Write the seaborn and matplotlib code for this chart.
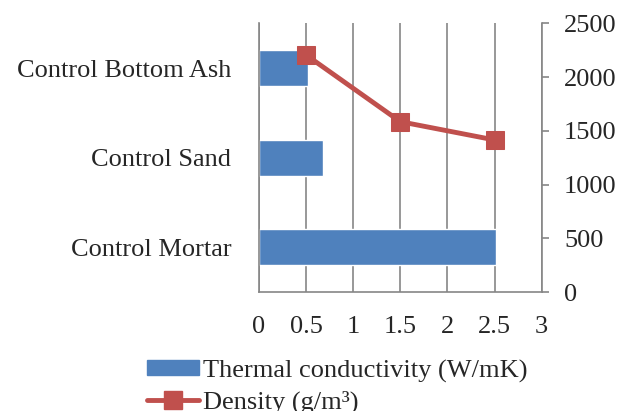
import pandas as pd
import matplotlib
matplotlib.use("Agg")
import matplotlib.pyplot as plt
import seaborn as sns
from matplotlib.lines import Line2D
from matplotlib.patches import Patch

# data
materials = ["Control Bottom Ash", "Control Sand", "Control Mortar"]
conductivity = [0.52, 0.68, 2.52]
density_x = [0.5, 1.5, 2.5]
density = [2205, 1585, 1415]
xticks = [0, 0.5, 1, 1.5, 2, 2.5, 3]
xticklabels = ["0", "0.5", "1", "1.5", "2", "2.5", "3"]
yticks2 = [0, 500, 1000, 1500, 2000, 2500]

sns.set_style("white")
plt.rcParams["font.family"] = ["Liberation Serif", "DejaVu Serif"]
plt.rcParams["font.size"] = 19

blue = "#4F81BD"
red = "#C0504D"
gray = "#868686"

df = pd.DataFrame({"material": materials, "k": conductivity})

fig = plt.figure(figsize=(6.18, 4.11), dpi=100)
ax = fig.add_axes([0.419, 0.289, 0.4575, 0.6545])

sns.barplot(data=df, x="k", y="material", order=materials, orient="h",
            color=blue, saturation=1, width=0.4, ax=ax)
ax.set_xlim(0, 3)
ax.set_ylim(2.5, -0.5)
ax.set_xticks(xticks)
ax.set_xticklabels(xticklabels)
ax.set_xlabel("")
ax.set_ylabel("")
ax.set_axisbelow(True)
ax.grid(axis="x", color=gray, lw=1.2)
ax.grid(axis="y", visible=False)
ax.tick_params(axis="x", length=0, pad=17)
ax.tick_params(axis="y", length=0, pad=20)
for s in ["top", "right"]:
    ax.spines[s].set_visible(False)
for s in ["left", "bottom"]:
    ax.spines[s].set_color(gray)
    ax.spines[s].set_linewidth(1.2)

ax2 = ax.twinx()
sns.lineplot(x=density_x, y=density, ax=ax2, color=red, lw=3.5,
             marker="s", markersize=13.5, markeredgecolor=red, sort=False)
ax2.set_ylim(0, 2500)
ax2.set_yticks(yticks2)
ax2.set_yticklabels([str(v) for v in yticks2])
ax2.tick_params(axis="y", length=5, width=1.2, color=gray, pad=11)
for s in ["top", "left", "bottom"]:
    ax2.spines[s].set_visible(False)
ax2.spines["right"].set_color(gray)
ax2.spines["right"].set_linewidth(1.2)

handles = [Patch(facecolor=blue, edgecolor=blue),
           Line2D([], [], color=red, lw=3.5, marker="s", markersize=13.5)]
labels = ["Thermal conductivity (W/mK)", "Density (g/m³)"]
fig.legend(handles, labels, loc="upper left", bbox_to_anchor=(0.238, 0.125),
           frameon=False, handlelength=1.95, handletextpad=0.15,
           handleheight=0.5, labelspacing=0.3, borderpad=0, borderaxespad=0)

fig.savefig("out.png", dpi=100)
